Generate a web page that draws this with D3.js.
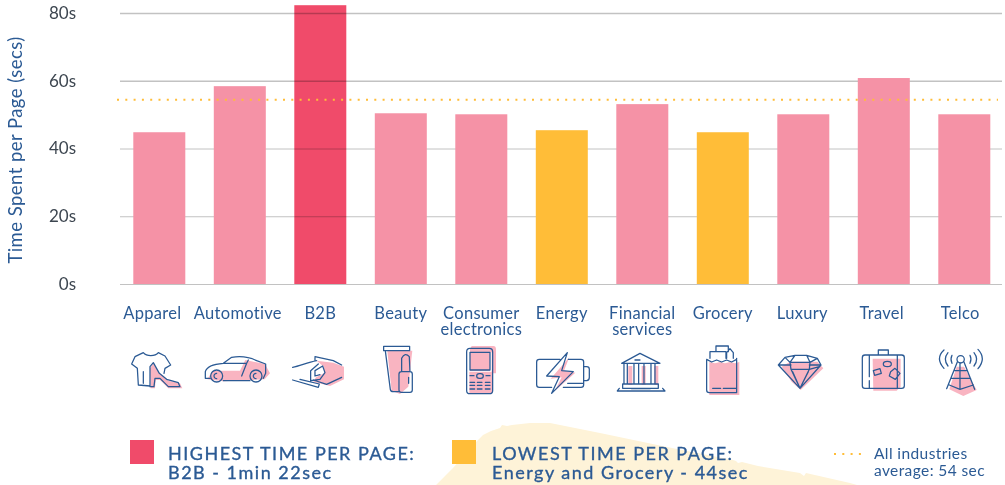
<!DOCTYPE html>
<html><head><meta charset="utf-8">
<script src="https://cdnjs.cloudflare.com/ajax/libs/d3/7.8.5/d3.min.js"></script>
<style>
html,body{margin:0;padding:0;background:#fff;overflow:hidden}
text{font-family:Lato,"Open Sans",sans-serif}
</style></head><body><svg id="c" width="1005" height="485"></svg>
<script>
const categories=["Apparel","Automotive","B2B","Beauty","Consumer electronics","Energy","Financial services","Grocery","Luxury","Travel","Telco"];
const values=[44.8,58.4,82.3,50.4,50.1,45.4,53.1,44.8,50.1,60.8,50.1];
const highlight=["normal","normal","high","normal","normal","low","normal","low","normal","normal","normal"];
const yTicks=[0,20,40,60,80];
const average=54.4;
const labelLines={"Consumer electronics":["Consumer","electronics"],"Financial services":["Financial","services"]};
const NAVY="#2b5a94",PINK="#f592a6",RED="#f04b6a",GOLD="#ffbd38",BLUSH="#f9b4c1";
const labelNudge={Apparel:-7,Automotive:-2,Luxury:-1,Travel:-2,Telco:-4};

const svg=d3.select("#c");
const x=d3.scaleBand().domain(categories).range([133.3,990.3]).paddingInner(0.354).paddingOuter(0);
const y=d3.scaleLinear().domain([0,80]).range([284,13]);

// sand backdrop
svg.append("path").attr("fill","#fef3d8").attr("d","M436 485L445 476L453 468L461 459L467 453L476 442L483 435L491 431L500 428L502 425L507 426L512 425L530 423L550 423L600 433L667 447L733 460L736 461L738 463L742 462L758 466L800 473L804 476L806 473L850 483L857 485Z");

// grid
svg.append("g").selectAll("line").data(yTicks).join("line")
 .attr("x1",120).attr("x2",1002).attr("y1",d=>y(d)+.5).attr("y2",d=>y(d)+.5)
 .attr("stroke","#c2c2c2").attr("stroke-width",d=>d>=60?1.4:1);

// bars
svg.append("g").selectAll("rect").data(categories).join("rect")
 .attr("x",d=>x(d)).attr("width",x.bandwidth())
 .attr("y",(d,i)=>y(values[i])).attr("height",(d,i)=>y(0)-y(values[i]))
 .attr("fill",(d,i)=>({normal:PINK,high:RED,low:GOLD})[highlight[i]])
 .style("mix-blend-mode",(d,i)=>highlight[i]==="high"?"multiply":"normal");

// average line
svg.append("line").attr("x1",117).attr("x2",998).attr("y1",y(average)).attr("y2",y(average))
 .attr("stroke",GOLD).attr("stroke-width",2).attr("stroke-dasharray","2 6.3");

// y axis
svg.append("g").selectAll("text").data(yTicks).join("text")
 .attr("x",76).attr("y",d=>y(d)).attr("dy","0.35em").attr("text-anchor","end")
 .attr("font-size",17).attr("fill","#3d4650").text(d=>d+"s");
svg.append("text").attr("transform","translate(22,150) rotate(-90)").attr("text-anchor","middle")
 .attr("font-size",18.5).attr("fill",NAVY).attr("letter-spacing",.45).text("Time Spent per Page (secs)");

// x labels
const xl=svg.append("g").selectAll("text").data(categories).join("text")
 .attr("text-anchor","middle").attr("font-size",16.5).attr("letter-spacing",.3).attr("fill",NAVY)
 .attr("transform",d=>`translate(${x(d)+x.bandwidth()/2+(labelNudge[d]||0)},318.5)`);
xl.selectAll("tspan").data(d=>labelLines[d]||[d]).join("tspan")
 .attr("x",0).attr("dy",(d,i)=>i?16:0).text(d=>d);

// icons, drawn in a 3x local grid
const icons=[
{ox:100,pink:"M150 85L160 70L178 100L205 122L240 130L247 145L205 145L180 120L167 120L165 145L152 145Z",
 line:"M130 38L105 50L95 72L112 85L115 135L150 138M130 38C140 50 165 50 175 38L195 48L212 75L195 85M195 85L192 100M130 95V130M150 80L160 68L178 100L200 118L235 128L240 140L205 140L180 115L165 115L162 140H150Z"},
{ox:100,pink:"M436 60L495 72L510 100L494 118L370 124L322 118L338 92L420 92Z",
 line:"M330 115H316V95C320 80 345 72 370 70L395 52C420 48 450 52 470 62L497 72V100L490 115M370 122H450M370 70L440 70L445 60M440 70L425 108M368 108a18 18 0 1 1-36 0a18 18 0 1 1 36 0M486 108a18 18 0 1 1-36 0a18 18 0 1 1 36 0M350 100a8 8 0 1 0 .1 16M468 100a8 8 0 1 0 .1 16"},
{ox:100,pink:"M650 62L700 68L732 80V118L690 138L640 125L648 112L672 100L672 80Z",
 line:"M578 82C600 78 620 68 650 62M655 72L632 92V122L660 118L675 98L668 78L645 92V108L660 104M645 52V62M645 50L700 62L725 75M640 120L680 133L725 112M578 120L655 142L658 132L600 118"},
{ox:100,pink:"M862 32H937L925 140L900 162L875 152Z",
 line:"M855 19H929V32H851V19ZM856 32L871 148Q872 155 880 155H897M905 95V55Q915 35 928 50L930 95M897 102Q897 95 905 95H930Q937 95 937 102V150Q937 157 930 157H904Q897 157 897 150ZM926 112V130"},
{ox:420,pink:"M155 18H220Q228 18 228 28V100H218V155Q218 161 210 161H148V95H215V37H150V28Z M150 37H210V92H150Z",
 line:"M150 25H208Q218 25 218 35V152Q218 161 208 161H150Q140 161 140 152V35Q140 25 150 25ZM150 37H210V90H150ZM150 107H162M198 107H210M170 108Q170 101 178 101H182Q190 101 190 108Q190 115 182 115H178Q170 115 170 108ZM150 127H164M172 127H186M196 127H210M150 136H164M172 136H186M196 136H210M150 147H164M172 147H186M196 147H210"},
{ox:420,pink:"M448 52L432 92L466 98L405 152L425 112L392 116Z",
 line:"M395 142H358Q350 142 350 134V66Q350 58 358 58H420M445 58H483Q491 58 491 66V134Q491 142 483 142H430M491 80H500Q508 80 508 88V112Q508 122 500 122H491M442 38L380 108L418 110L395 160L460 95L425 92ZM443 130H488"},
{ox:420,pink:"M625 78H637V135H625ZM665 78H677V135H665ZM703 78H715V135H703Z",
 line:"M605 70L660 40L720 70ZM645 60H660M612 70V132M622 70V132M642 70V132M656 70V132M672 70V132M693 70V132M705 70V132M608 132H715V145H608ZM598 145L592 153H735L728 145M635 146H690"},
{ox:420,pink:"M868 66L885 70L900 66L915 70L930 66L945 70L958 66V165H868Z",
 line:"M860 58V150Q860 158 868 158H950V55M860 58L875 66L890 60L905 66L920 60L935 66L950 58M870 55V35H918V55M888 35V18H925V35M920 55V38L930 26L940 38V55M878 145H902M910 145H948"},
{ox:740,pink:"M150 65H232L250 85L182 150L155 125L125 80Z",
 line:"M115 75L135 52L165 46H200L232 55L243 75L180 145ZM135 52L150 67L210 67L232 55M115 75H153M208 75H243M150 67L153 88H208L210 67M165 46L150 67M200 46L210 67M122 82L180 145L153 88M180 145L208 88L238 80M158 95L180 145M205 95L180 145"},
{ox:740,pink:"M398 56H482V140L470 152H400Z",
 line:"M415 45V30H445V45M375 45H485Q493 45 493 53V137Q493 145 485 145H375Q367 145 367 137V53Q367 45 375 45ZM388 45V110M388 122V145M472 45V145M400 92L420 86L424 100L404 106ZM430 72a12 8 0 1 1 24 0a12 8 0 1 1-24 0M452 95L465 85L480 100L466 118L448 108Z"},
{ox:740,pink:"M650 80L672 80L710 150L670 168L628 148Z",
 line:"M651 58a11 11 0 1 1 22 0a11 11 0 1 1-22 0M652 66L620 146M672 66L704 148M645 92L680 92M635 115L692 115M628 135L660 148L700 135M660 68V146M612 30Q585 55 612 85M624 38Q608 58 624 78M636 46Q630 58 636 70M690 46Q696 58 690 70M702 38Q718 58 702 78M714 28Q740 55 714 86"}
];
const ig=svg.append("g").selectAll("g").data(icons).join("g")
 .attr("transform",d=>`translate(${d.ox},340) scale(0.3333)`);
ig.append("path").attr("d",d=>d.pink).attr("fill",BLUSH);
ig.append("path").attr("d",d=>d.line).attr("fill","none").attr("stroke",NAVY)
 .attr("stroke-width",3.8).attr("stroke-linecap","round").attr("stroke-linejoin","round");

// legend
const legend=[
 {c:RED,x:130,tx:168,a:"HIGHEST TIME PER PAGE:",b:"B2B - 1min 22sec"},
 {c:GOLD,x:452,tx:492,a:"LOWEST TIME PER PAGE:",b:"Energy and Grocery - 44sec"}];
const lg=svg.append("g").selectAll("g").data(legend).join("g");
lg.append("rect").attr("x",d=>d.x).attr("y",440).attr("width",24).attr("height",24).attr("fill",d=>d.c);
[["a",460],["b",479]].forEach(([k,yy])=>lg.append("text").attr("x",d=>d.tx).attr("y",yy)
 .attr("font-size",18).attr("letter-spacing",1.5).attr("fill",NAVY)
 .attr("stroke",NAVY).attr("stroke-width",.35).text(d=>d[k]));
svg.append("line").attr("x1",834).attr("x2",866).attr("y1",454).attr("y2",454)
 .attr("stroke",GOLD).attr("stroke-width",2).attr("stroke-dasharray","2 6.3");
[["All industries",459],["average: 54 sec",476]].forEach(([t,yy])=>svg.append("text").attr("x",874).attr("y",yy)
 .attr("font-size",15.5).attr("letter-spacing",.4).attr("fill",NAVY).text(t));
</script></body></html>
